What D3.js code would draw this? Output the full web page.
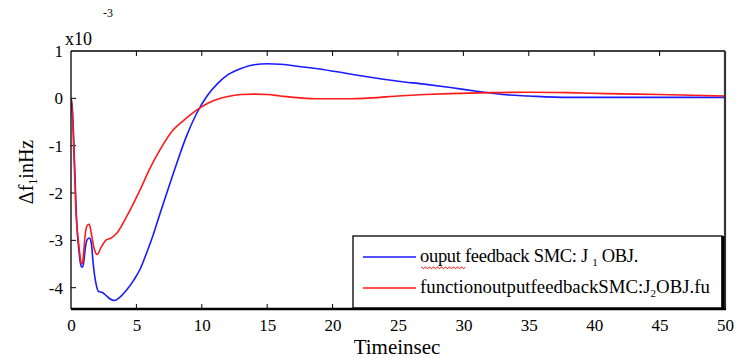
<!DOCTYPE html>
<html>
<head>
<meta charset="utf-8">
<script src="https://cdn.jsdelivr.net/npm/d3@7"></script>
<style>
  html, body { margin: 0; padding: 0; background: #fff; }
  svg { display: block; }
  svg text { font-family: "Liberation Serif", "Times New Roman", serif !important; fill: #000; }
</style>
</head>
<body>
<svg id="chart" width="738" height="358"></svg>
<script>
// Frequency deviation response (x10^-3 Hz) over time in seconds
const timeJ1 = [0, 0.1, 0.2, 0.3, 0.4, 0.5, 0.6, 0.7, 0.8, 0.9, 1.0, 1.1, 1.25, 1.4, 1.55, 1.7, 1.9, 2.1, 2.4, 2.7, 3.0, 3.3, 3.7, 4.25, 4.8, 5.3, 5.8, 6.3, 6.8, 7.3, 8.1, 8.8, 9.6, 10.4, 11.2, 12, 13, 14, 15, 16, 17, 19, 21, 23, 25, 27, 29, 31, 33, 35, 38, 42, 46, 50];
const valJ1  = [0, -0.2, -0.8, -1.6, -2.4, -2.9, -3.2, -3.45, -3.56, -3.56, -3.4, -3.15, -2.98, -2.95, -3.05, -3.5, -3.9, -4.08, -4.1, -4.17, -4.24, -4.27, -4.21, -4.05, -3.84, -3.6, -3.25, -2.87, -2.44, -2.02, -1.36, -0.82, -0.32, 0.05, 0.31, 0.5, 0.63, 0.71, 0.73, 0.72, 0.69, 0.62, 0.53, 0.44, 0.36, 0.3, 0.23, 0.15, 0.08, 0.05, 0.02, 0.02, 0.02, 0.02];

const timeJ2 = [0, 0.1, 0.2, 0.3, 0.4, 0.5, 0.6, 0.7, 0.8, 0.9, 1.0, 1.1, 1.25, 1.4, 1.55, 1.75, 2.0, 2.3, 2.7, 3.0, 3.5, 4.25, 5.27, 6.0, 6.8, 7.8, 8.6, 9.6, 10.5, 11.2, 12, 13, 14, 15, 16, 17.5, 19, 21, 23, 25, 27, 29, 32, 35, 38, 41, 45, 50];
const valJ2  = [0, -0.3, -1.0, -1.8, -2.5, -2.85, -3.1, -3.35, -3.5, -3.45, -3.15, -2.85, -2.68, -2.66, -2.85, -3.15, -3.3, -3.15, -2.99, -2.96, -2.85, -2.5, -1.94, -1.5, -1.09, -0.67, -0.47, -0.25, -0.1, -0.02, 0.04, 0.08, 0.09, 0.08, 0.05, 0.01, -0.01, -0.01, 0.01, 0.05, 0.08, 0.1, 0.12, 0.13, 0.12, 0.1, 0.08, 0.05];

const xTicks = [0, 5, 10, 15, 20, 25, 30, 35, 40, 45, 50];
const yTicks = [1, 0, -1, -2, -3, -4];

const legendLabels = ["ouput feedback SMC: J ", "functionoutputfeedbackSMC:J"];

const svg = d3.select("#chart");
const m = { left: 71, top: 51, right: 725, bottom: 309 };

const x = d3.scaleLinear().domain([0, 50]).range([m.left, m.right]);
const y = d3.scaleLinear().domain([-4.45, 1]).range([m.bottom, m.top]);
const fmt = d => String(d);

svg.append("rect").attr("width", 738).attr("height", 358).attr("fill", "#fff");

// Ticks (inward) on bottom and top
const tickLen = 5;
const bottomAxis = d3.axisBottom(x).tickValues(xTicks).tickSize(0).tickPadding(10).tickFormat(fmt);
const gB = svg.append("g").attr("transform", `translate(0,${m.bottom})`).call(bottomAxis);
gB.select(".domain").remove();
gB.attr("font-size", null).attr("font-family", null);
gB.selectAll("text").style("font-size", "17px");

svg.append("g").selectAll("line").data(xTicks.slice(1, -1)).join("line")
  .attr("x1", d => x(d)).attr("x2", d => x(d))
  .attr("y1", m.bottom).attr("y2", m.bottom - tickLen)
  .attr("stroke", "#000").attr("stroke-width", 1);
svg.append("g").selectAll("line").data(xTicks.slice(1, -1)).join("line")
  .attr("x1", d => x(d)).attr("x2", d => x(d))
  .attr("y1", m.top).attr("y2", m.top + tickLen)
  .attr("stroke", "#000").attr("stroke-width", 1);

// Left axis
const leftAxis = d3.axisLeft(y).tickValues(yTicks).tickSize(0).tickPadding(8).tickFormat(fmt);
const gL = svg.append("g").attr("transform", `translate(${m.left},0)`).call(leftAxis);
gL.select(".domain").remove();
gL.attr("font-size", null).attr("font-family", null);
gL.selectAll("text").style("font-size", "17px");
svg.append("g").selectAll("line").data(yTicks.slice(1)).join("line")
  .attr("x1", m.left).attr("x2", m.left + tickLen)
  .attr("y1", d => y(d)).attr("y2", d => y(d))
  .attr("stroke", "#000").attr("stroke-width", 1);

// Exponent label
svg.append("text").attr("x", 65).attr("y", 45).style("font-size", "18px").text("x10");
svg.append("text").attr("x", 103).attr("y", 17).style("font-size", "12px").text("-3");

// Curves
svg.append("clipPath").attr("id", "plotclip").append("rect")
  .attr("x", m.left).attr("y", m.top).attr("width", m.right - m.left).attr("height", m.bottom - m.top);

const line = d3.line().x(d => x(d[0])).y(d => y(d[1])).curve(d3.curveMonotoneX);
const seriesJ1 = d3.zip(timeJ1, valJ1);
const seriesJ2 = d3.zip(timeJ2, valJ2);

const plot = svg.append("g").attr("clip-path", "url(#plotclip)");
plot.append("path").datum(seriesJ1).attr("d", line)
  .attr("fill", "none").attr("stroke", "#1a1aff").attr("stroke-width", 1.6);
plot.append("path").datum(seriesJ2).attr("d", line)
  .attr("fill", "none").attr("stroke", "#ff1a1a").attr("stroke-width", 1.6);

// Axes frame: thin left/top, heavier right/bottom
svg.append("line").attr("x1", m.left).attr("x2", m.left).attr("y1", m.top).attr("y2", m.bottom)
  .attr("stroke", "#000").attr("stroke-width", 1.3);
svg.append("line").attr("x1", m.left).attr("x2", m.right).attr("y1", m.top).attr("y2", m.top)
  .attr("stroke", "#000").attr("stroke-width", 1.3);
svg.append("line").attr("x1", m.right).attr("x2", m.right).attr("y1", m.top).attr("y2", m.bottom)
  .attr("stroke", "#333").attr("stroke-width", 2.2);

// Legend box
const lg = { x0: 353, y0: 236, x1: 722, y1: 308 };
svg.append("rect").attr("x", lg.x0).attr("y", lg.y0).attr("width", lg.x1 - lg.x0).attr("height", lg.y1 - lg.y0)
  .attr("fill", "#fff").attr("stroke", "#000").attr("stroke-width", 1.3);
svg.append("line").attr("x1", lg.x1 + 1).attr("x2", lg.x1 + 1).attr("y1", lg.y0).attr("y2", lg.y1 + 1)
  .attr("stroke", "#000").attr("stroke-width", 3);

svg.append("line").attr("x1", m.left).attr("x2", m.right + 1).attr("y1", m.bottom).attr("y2", m.bottom)
  .attr("stroke", "#000").attr("stroke-width", 2.6);

const legendColors = ["#1a1aff", "#ff1a1a"];
const legendY = [257, 288];
const subs = ["1", "2"];
legendLabels.forEach((lbl, i) => {
  svg.append("line").attr("x1", 363).attr("x2", 416).attr("y1", legendY[i]).attr("y2", legendY[i])
    .attr("stroke", legendColors[i]).attr("stroke-width", 1.6);
});

const t1 = svg.append("text").attr("x", 420).attr("y", 262).style("font-size", "18.5px").style("letter-spacing", "-0.3px");
t1.append("tspan").text(legendLabels[0]);
t1.append("tspan").style("font-size", "11px").attr("dy", 4).text(subs[0]);
t1.append("tspan").attr("dy", -4).text(" OBJ.");

const t2 = svg.append("text").attr("x", 420).attr("y", 293).style("font-size", "18.8px").style("letter-spacing", "0px");
t2.append("tspan").text(legendLabels[1]);
t2.append("tspan").style("font-size", "11px").attr("dy", 4).text(subs[1]);
t2.append("tspan").attr("dy", -4).text("OBJ.fu");

// Spell-check squiggle under the first word
const sq = d3.range(0, 45, 1).map(i => [421 + i, 267 + (i % 4 < 2 ? 0 : 1.6)]);
svg.append("path").attr("d", d3.line()(sq)).attr("fill", "none").attr("stroke", "#ff2020").attr("stroke-width", 0.9);

// Axis titles
svg.append("text").attr("x", 397).attr("y", 354).attr("text-anchor", "middle").style("font-size", "21px").text("Timeinsec");

const yl = svg.append("text").attr("transform", "translate(33,172) rotate(-90)").attr("text-anchor", "middle").style("font-size", "20px");
yl.append("tspan").text("Δf");
yl.append("tspan").style("font-size", "12px").attr("dy", 4).text("1");
yl.append("tspan").attr("dy", -4).text("inHz");
</script>
</body>
</html>
